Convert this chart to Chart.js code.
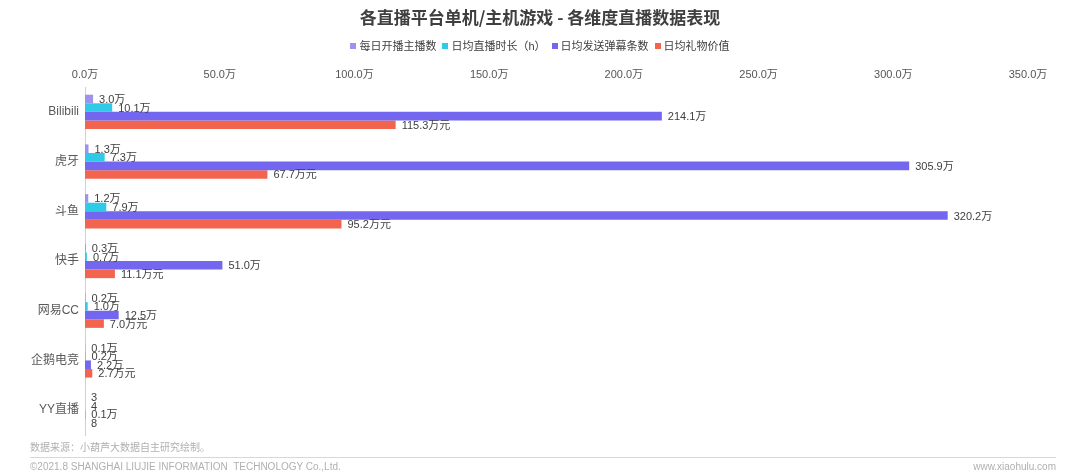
<!DOCTYPE html>
<html><head><meta charset="utf-8">
<script src="https://cdn.jsdelivr.net/npm/chart.js@4/dist/chart.umd.min.js"></script>
<style>
html,body{margin:0;padding:0;background:#fff;}
#wrap{position:relative;width:1080px;height:475px;}
#c{position:absolute;left:0;top:0;}
#title{position:absolute;left:0;top:5px;width:1080px;text-align:center;font-family:"Noto Sans CJK SC",sans-serif;font-weight:bold;font-size:17px;line-height:24px;color:#3f3f3f;}
#legend{position:absolute;left:0;top:38px;width:1080px;display:flex;justify-content:center;font-family:"Liberation Sans","Noto Sans CJK SC",sans-serif;font-size:11px;line-height:16px;color:#404040;}
#legend span.it{display:flex;align-items:center;margin:0 3px;}
#legend i{display:inline-block;width:6px;height:6px;margin-right:3px;}
.ft{position:absolute;font-family:"Liberation Sans","Noto Sans CJK SC",sans-serif;color:#b0b0b0;font-size:10px;white-space:nowrap;}
#line{position:absolute;left:30px;top:457px;width:1026px;height:1px;background:#d8d8d8;}
</style></head>
<body><div id="wrap"><canvas id="c" width="1080" height="475"></canvas>
<div id="title">各直播平台单机/主机游戏 - 各维度直播数据表现</div>
<div id="legend"></div>
<div class="ft" style="left:30px;top:439px;">数据来源：小葫芦大数据自主研究绘制。</div>
<div id="line"></div>
<div class="ft" style="left:30px;top:461px;">©2021.8 SHANGHAI LIUJIE INFORMATION&nbsp; TECHNOLOGY Co.,Ltd.</div>
<div class="ft" style="right:24px;top:461px;">www.xiaohulu.com</div>
</div>
<script>
const categories = ['Bilibili','虎牙','斗鱼','快手','网易CC','企鹅电竞','YY直播'];
const seriesNames = ['每日开播主播数','日均直播时长（h）','日均发送弹幕条数','日均礼物价值'];
// values in 万
const anchors  = [3.0, 1.3, 1.2, 0.3, 0.2, 0.1, 0.0003];
const hours    = [10.1, 7.3, 7.9, 0.7, 1.0, 0.2, 0.0004];
const danmaku  = [214.1, 305.9, 320.2, 51.0, 12.5, 2.2, 0.1];
const gifts    = [115.3, 67.7, 95.2, 11.1, 7.0, 2.7, 0.0008];
const suffixes = ['万','万','万','万元'];
const xTicks = [0,50,100,150,200,250,300,350];
const colors = ['#9d93ef','#2fcbe6','#7367ef','#f3644f'];

const FONT = '"Liberation Sans","Noto Sans CJK SC",sans-serif';

// HTML legend built from the series
const lg = document.getElementById('legend');
seriesNames.forEach((n,i)=>{
  const s = document.createElement('span'); s.className='it';
  const b = document.createElement('i'); b.style.background = colors[i];
  s.appendChild(b); s.appendChild(document.createTextNode(n)); lg.appendChild(s);
});

function fmt(v, s){
  if (v < 0.05) return String(Math.round(v*10000));
  return v.toFixed(1) + suffixes[s];
}
const labelPlugin = {
  id:'vlabels',
  afterDatasetsDraw(chart){
    const ctx = chart.ctx;
    ctx.save();
    ctx.font = '11px ' + FONT;
    ctx.fillStyle = '#404040';
    ctx.textAlign = 'left';
    ctx.textBaseline = 'middle';
    chart.data.datasets.forEach((ds, di) => {
      const meta = chart.getDatasetMeta(di);
      meta.data.forEach((bar, i) => {
        ctx.fillText(fmt(ds.data[i], di), bar.x + 6, bar.y + 1);
      });
    });
    ctx.restore();
  }
};
const data = {
  labels: categories,
  datasets: [anchors, hours, danmaku, gifts].map((d, i) => ({
    label: seriesNames[i], data: d, backgroundColor: colors[i],
    barPercentage: 1.0, categoryPercentage: 0.69
  }))
};
new Chart(document.getElementById('c'), {
  type:'bar',
  data,
  plugins:[labelPlugin],
  options:{
    responsive:false, animation:false, indexAxis:'y',
    layout:{padding:{top:60,right:52,left:0,bottom:40}},
    plugins:{ title:{display:false}, legend:{display:false}, tooltip:{enabled:false} },
    scales:{
      x:{position:'top',min:0,max:350,
        afterBuildTicks(s){ s.ticks = xTicks.map(v=>({value:v})); },
        afterFit(s){ s.height = 27; },
        grid:{display:false,drawTicks:false},border:{display:false},
        ticks:{color:'#555',font:{family:FONT,size:11},padding:5,
          callback:v=>v.toFixed(1)+'万'}},
      y:{afterFit(s){ s.width = 85; },
        grid:{display:false,drawTicks:false},border:{display:true,color:'#d0d0d0'},
        ticks:{color:'#595959',font:{family:FONT,size:12},padding:6}}
    }
  }
});
</script></body></html>
